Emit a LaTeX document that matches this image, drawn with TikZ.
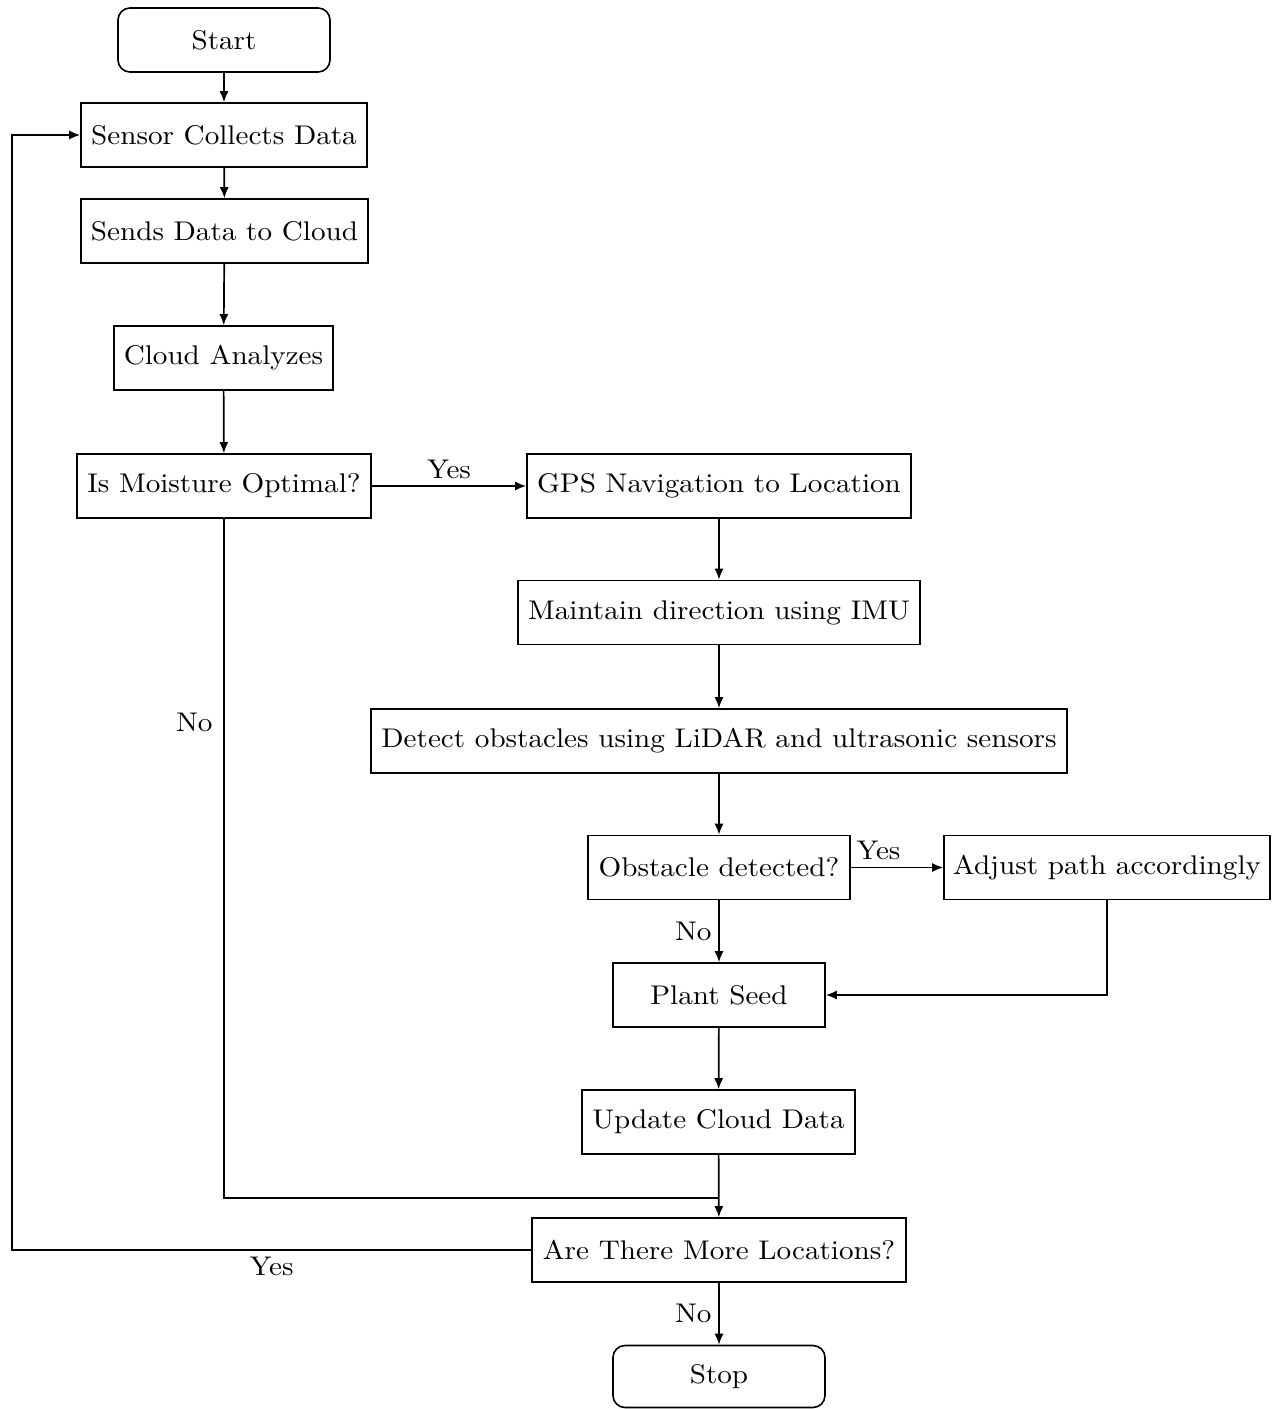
\documentclass[tikz,border=0pt]{standalone}
\usepackage{fontspec}
\setmainfont{lmroman10-regular.otf}[FakeStretch=1.08]
\usetikzlibrary{arrows.meta}
\begin{document}
\begin{tikzpicture}[x=0.5pt,y=-0.5pt,
  box/.style={draw, line width=0.8pt, minimum height=32pt, inner sep=0pt, font=\fontsize{13.5}{15}\selectfont},
  term/.style={box, rounded corners=6pt},
  line/.style={line width=0.85pt},
  arr/.style={line, -{Latex[length=5.5pt,width=4.5pt]}},
  lab/.style={font=\fontsize{13.5}{15}\selectfont}]
\useasboundingbox (0,0) rectangle (1272,1409);
\node[term, minimum width=106pt]   (start)  at (224,40)     {Start};
\node[box,  minimum width=143pt]   (sensor) at (224,135)    {Sensor Collects Data};
\node[box,  minimum width=143.5pt] (sends)  at (224.5,231)  {Sends Data to Cloud};
\node[box,  minimum width=109.5pt] (cloud)  at (223.5,358)  {Cloud Analyzes};
\node[box,  minimum width=147pt]   (moist)  at (224,486)    {Is Moisture Optimal?};
\node[box,  minimum width=192pt]   (gps)    at (719,486)    {GPS Navigation to Location};
\node[box,  minimum width=201pt]   (imu)    at (719,612.5)  {Maintain direction using IMU};
\node[box,  minimum width=348pt]   (detect) at (719,741)    {Detect obstacles using LiDAR and ultrasonic sensors};
\node[box,  minimum width=131pt]   (obst)   at (719,867.5)  {Obstacle detected?};
\node[box,  minimum width=163pt]   (adjust) at (1107,867.5) {Adjust path accordingly};
\node[box,  minimum width=106pt]   (plant)  at (719,995)    {Plant Seed};
\node[box,  minimum width=136.5pt] (update) at (718.5,1122) {Update Cloud Data};
\node[box,  minimum width=187pt]   (more)   at (719,1250)   {Are There More Locations?};
\node[term, minimum width=106pt, minimum height=31pt] (stop) at (719,1376.5) {Stop};
\coordinate (join) at (719,1198);
\coordinate (loop) at (12,1250);

\draw[arr] (start) -- (sensor);
\draw[arr] (sensor) -- (sends);
\draw[arr] (sends) -- (cloud);
\draw[arr] (cloud) -- (moist);
\draw[arr] (moist) -- node[lab, above, pos=0.5] {Yes} (gps);
\draw[arr] (gps) -- (imu);
\draw[arr] (imu) -- (detect);
\draw[arr] (detect) -- (obst);
\draw[arr] (obst) -- node[lab, above, pos=0.3] {Yes} (adjust);
\draw[arr] (obst) -- node[lab, left] {No} (plant);
\draw[arr] (adjust.south) |- (plant.east);
\draw[arr] (plant) -- (update);
\draw[arr] (update) -- (more);
\draw[line] (moist.south) |- node[lab, left, pos=0.15, xshift=-2pt] {No} (join);
\draw[arr] (more.west) -- node[lab, below] {Yes} (loop) |- (sensor.west);
\draw[arr] (more) -- node[lab, left] {No} (stop);
\end{tikzpicture}
\end{document}
